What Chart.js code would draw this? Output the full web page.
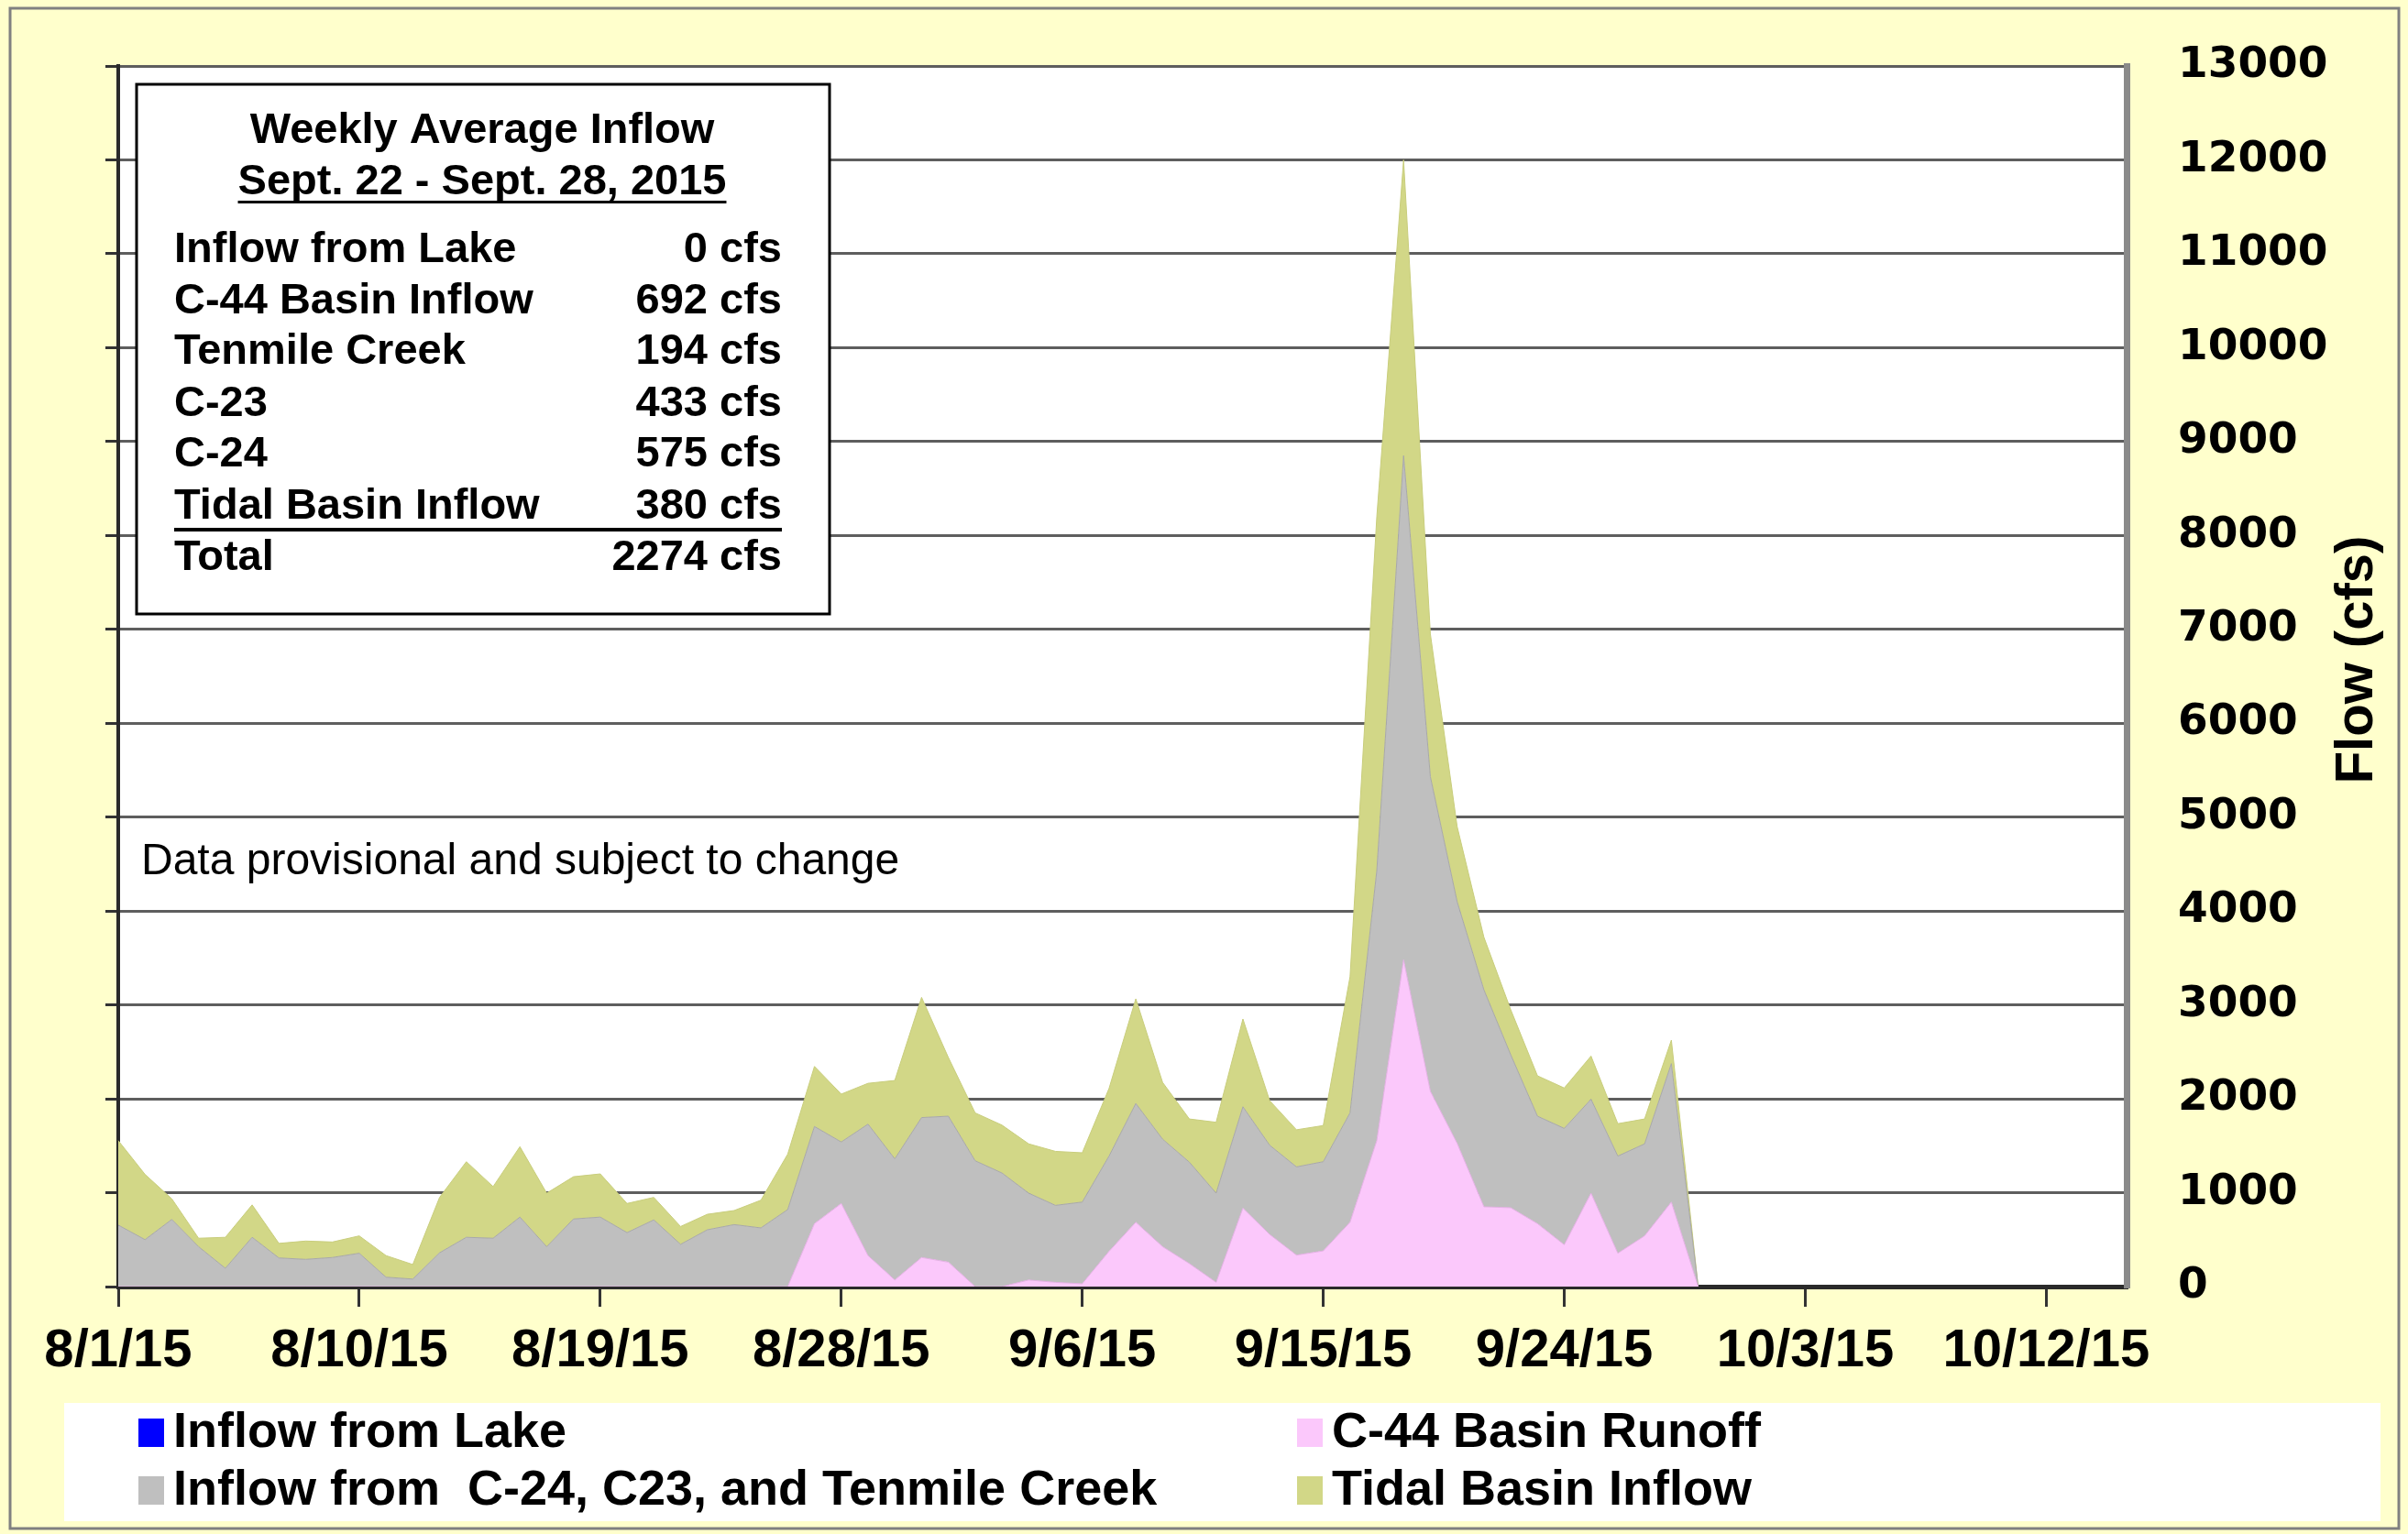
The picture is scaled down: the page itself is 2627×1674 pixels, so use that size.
<!DOCTYPE html>
<html>
<head>
<meta charset="utf-8">
<script src="https://cdn.jsdelivr.net/npm/chart.js@4.4.0/dist/chart.umd.min.js"></script>
<style>
  html, body { margin: 0; padding: 0; background: #ffffcc; }
  canvas { display: block; }
</style>
</head>
<body>
<canvas id="flowChart" width="2627" height="1674"></canvas>
<script>
// daily flows starting 8/1/15, cfs
const tickLabels = ['8/1/15', '8/10/15', '8/19/15', '8/28/15', '9/6/15', '9/15/15', '9/24/15', '10/3/15', '10/12/15'];

const lakeInflow = [0, 0, 0, 0, 0, 0, 0, 0, 0, 0, 0, 0, 0, 0, 0, 0, 0, 0, 0, 0,
  0, 0, 0, 0, 0, 0, 0, 0, 0, 0, 0, 0, 0, 0, 0, 0, 0, 0, 0, 0,
  0, 0, 0, 0, 0, 0, 0, 0, 0, 0, 0, 0, 0, 0, 0, 0, 0, 0, 0, 0];

const c44Runoff = [0, 0, 0, 0, 0, 0, 0, 0, 0, 0, 0, 0, 0, 0, 0, 0, 0, 0, 0, 0,
  0, 0, 0, 0, 0, 0, 670, 885, 330, 70, 310, 260, 0, 0, 70, 45, 30, 375, 685, 425,
  245, 45, 835, 555, 335, 380, 685, 1555, 3480, 2080, 1525, 850, 840, 670, 445, 995, 355, 540, 900, 0];

const canalInflow = [655, 500, 715, 425, 195, 525, 305, 290, 310, 355, 100, 80, 360, 525, 515, 740, 425, 720, 740, 575,
  710, 450, 605, 660, 625, 820, 1035, 655, 1400, 1290, 1490, 1555, 1340, 1210, 925, 820, 870, 1015, 1265, 1145,
  1080, 950, 1080, 950, 940, 950, 1165, 2875, 5370, 3350, 2575, 2310, 1630, 1145, 1240, 1000, 1035, 980, 1475, 0];

const tidalInflow = [900, 695, 220, 90, 330, 345, 155, 195, 165, 185, 230, 155, 590, 805, 550, 750, 570, 450, 460, 310,
  240, 190, 165, 150, 295, 590, 640, 510, 435, 835, 1280, 625, 510, 510, 525, 575, 525, 720, 1115, 605,
  460, 755, 935, 475, 395, 385, 1450, 3770, 3150, 1520, 800, 560, 480, 430, 430, 460, 345, 265, 250, 0];

const summaryLabels = ['Inflow from Lake', 'C-44 Basin Inflow', 'Tenmile Creek', 'C-23', 'C-24', 'Tidal Basin Inflow', 'Total'];
const summaryValues = ['0 cfs', '692 cfs', '194 cfs', '433 cfs', '575 cfs', '380 cfs', '2274 cfs'];

// one category per day, 8/1/15 .. 10/15/15
const categories = [];
for (let d = 0; d < 76; d++) {
  const dt = new Date(2015, 7, 1 + d);
  categories.push((dt.getMonth() + 1) + '/' + dt.getDate() + '/15');
}

const BOLD = '"Liberation Sans", Arial, sans-serif';

const backdrop = {
  id: 'backdrop',
  beforeDraw(chart) {
    const { ctx, chartArea: a } = chart;
    ctx.save();
    ctx.fillStyle = '#ffffcc';
    ctx.fillRect(0, 0, chart.width, chart.height);
    ctx.strokeStyle = '#808080';
    ctx.lineWidth = 3;
    ctx.strokeRect(11, 9, 2606, 1659);
    ctx.fillStyle = '#ffffff';
    ctx.fillRect(a.left, a.top, a.right - a.left, a.bottom - a.top);
    ctx.restore();
  }
};

const overlay = {
  id: 'overlay',
  afterDraw(chart) {
    const ctx = chart.ctx;
    ctx.save();

    // weekly summary box
    ctx.fillStyle = '#ffffff';
    ctx.fillRect(149, 92, 756, 578);
    ctx.strokeStyle = '#000';
    ctx.lineWidth = 3;
    ctx.strokeRect(149, 92, 756, 578);

    ctx.fillStyle = '#000';
    ctx.font = 'bold 47px ' + BOLD;
    ctx.textBaseline = 'middle';
    ctx.textAlign = 'center';
    ctx.fillText('Weekly Average Inflow', 526, 143);
    ctx.fillText('Sept. 22 - Sept. 28, 2015', 526, 199);
    const w = ctx.measureText('Sept. 22 - Sept. 28, 2015').width;
    ctx.fillRect(526 - w / 2, 219, w, 3);

    const rowY = [273, 329, 384, 441, 496, 553, 609];
    summaryLabels.forEach((lab, i) => {
      ctx.textAlign = 'left';
      ctx.fillText(lab, 190, rowY[i]);
      ctx.textAlign = 'right';
      ctx.fillText(summaryValues[i], 853, rowY[i]);
    });
    ctx.fillRect(190, 576, 663, 4);

    // provisional note
    ctx.textAlign = 'left';
    ctx.font = '48px ' + BOLD;
    ctx.fillText('Data provisional and subject to change', 154, 941);

    // right axis title
    ctx.save();
    ctx.translate(2572, 720);
    ctx.rotate(-Math.PI / 2);
    ctx.textAlign = 'center';
    ctx.font = 'bold 58px ' + BOLD;
    ctx.fillText('Flow (cfs)', 0, 0);
    ctx.restore();

    // legend
    ctx.fillStyle = '#ffffff';
    ctx.fillRect(70, 1531, 2527, 129);
    const cols = [151, 1415];
    const rows = [1548, 1611];
    ctx.font = 'bold 54px ' + BOLD;
    ctx.textAlign = 'left';
    chart.data.datasets.forEach((ds, k) => {
      const x = cols[k % 2], y = rows[Math.floor(k / 2)];
      ctx.fillStyle = ds.backgroundColor;
      ctx.fillRect(x, y, 28, 31);
      ctx.fillStyle = '#000';
      ctx.fillText(ds.label, x + 38, y + 16);
    });

    ctx.restore();
  }
};

new Chart(document.getElementById('flowChart'), {
  type: 'line',
  data: {
    labels: categories,
    datasets: [
      { label: 'Inflow from Lake', data: lakeInflow, yAxisID: 'y', backgroundColor: '#0000ff', borderWidth: 0, fill: 'origin', pointRadius: 0 },
      { label: 'C-44 Basin Runoff', data: c44Runoff, yAxisID: 'y', backgroundColor: '#fbc8fb', borderColor: '#e3b0e3', borderWidth: 1, fill: '-1', pointRadius: 0 },
      { label: 'Inflow from  C-24, C23, and Tenmile Creek', data: canalInflow, yAxisID: 'y', backgroundColor: '#bfbfbf', borderColor: '#a8a8a8', borderWidth: 1, fill: '-1', pointRadius: 0 },
      { label: 'Tidal Basin Inflow', data: tidalInflow, yAxisID: 'y', backgroundColor: '#d2d787', borderColor: '#c8cd7c', borderWidth: 1, fill: '-1', pointRadius: 0 }
    ]
  },
  options: {
    responsive: false,
    animation: false,
    events: [],
    layout: { padding: { top: 72, left: 0, right: 0, bottom: 0 } },
    elements: { line: { tension: 0 } },
    plugins: {
      legend: { display: false },
      tooltip: { enabled: false },
      filler: { propagate: false }
    },
    scales: {
      x: {
        type: 'category',
        position: 'bottom',
        z: 1,
        grid: { drawOnChartArea: false, drawTicks: true, tickLength: 22, color: '#333', lineWidth: 3 },
        border: { display: true, color: '#2a2a2a', width: 5 },
        ticks: {
          autoSkip: false,
          maxRotation: 0,
          padding: 14,
          color: '#000',
          font: { family: BOLD, weight: 'bold', size: 58 },
          callback: function (v, i) {
            const lab = categories[i];
            return tickLabels.includes(lab) ? lab : null;
          }
        },
        afterFit: s => { s.height = 270; }
      },
      y: {
        position: 'right',
        stacked: true,
        min: 0,
        max: 13000,
        grid: { drawTicks: false, color: '#5e5e5e', lineWidth: 3 },
        border: { display: true, color: '#8a8a8a', width: 7 },
        ticks: {
          stepSize: 1000,
          padding: 56,
          color: '#000',
          font: { family: '"DejaVu Sans", Verdana, sans-serif', weight: 'bold', size: 47 },
          callback: v => String(v)
        },
        afterFit: s => { s.width = 307; s.paddingTop = 0; s.paddingBottom = 0; }
      },
      yL: {
        position: 'left',
        min: 0,
        max: 13000,
        z: 1,
        grid: { drawOnChartArea: false, drawTicks: true, tickLength: 14, color: '#333', lineWidth: 3 },
        border: { display: true, color: '#2a2a2a', width: 4 },
        ticks: { display: false, stepSize: 1000 },
        afterFit: s => { s.width = 129; s.paddingTop = 0; s.paddingBottom = 0; }
      }
    }
  },
  plugins: [backdrop, overlay]
});
</script>
</body>
</html>
